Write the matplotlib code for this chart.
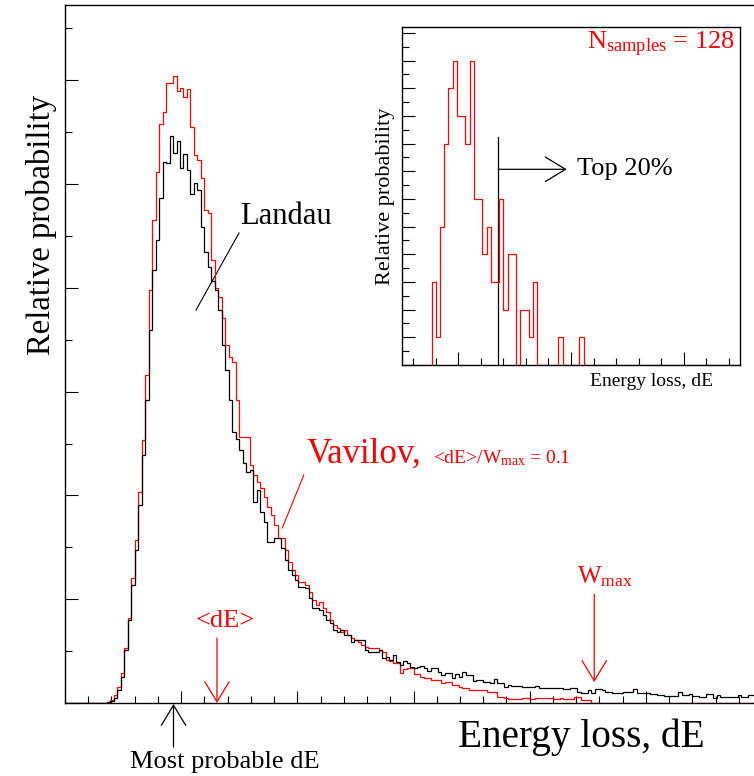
import numpy as np
import matplotlib
matplotlib.use("Agg")
import matplotlib.pyplot as plt

plt.rcParams.update({
    "font.family": "Liberation Serif",
    "mathtext.fontset": "custom",
    "mathtext.rm": "Liberation Serif",
    "mathtext.it": "Liberation Serif:italic",
})

# ── main histograms: 200 bins over 30 x-units (1 unit = one minor x tick) ──
X_MAX = 30.0
N_BINS = 200
TICK_Y = 51.9          # one minor y tick, heights are in arbitrary units
Y_MAX = 698.0

landau = [
    0, 0, 0, 0, 0, 0, 0, 0, 0, 0,
    0, 0, 1, 2, 5, 13, 26, 53, 83, 118,
    153, 198, 248, 303, 373, 433, 463, 505, 541, 540,
    567, 550, 562, 535, 549, 533, 509, 520, 513, 476,
    451, 436, 422, 413, 393, 358, 333, 303, 271, 264,
    253, 240, 231, 233, 201, 213, 191, 181, 161, 161,
    165, 165, 155, 143, 133, 128, 123, 116, 116, 115,
    105, 95, 95, 93, 88, 83, 80, 73, 71, 73,
    68, 68, 61, 63, 63, 63, 53, 51, 51, 51,
    53, 45, 46, 43, 48, 41, 38, 42, 40, 36,
    35, 36, 37, 35, 32, 35, 35, 31, 28, 30,
    30, 25, 29, 26, 31, 28, 28, 22, 23, 23,
    21, 21, 20, 24, 20, 20, 16, 18, 17, 17,
    17, 16, 16, 16, 16, 17, 15, 15, 15, 15,
    15, 15, 15, 14, 14, 15, 15, 11, 10, 10,
    13, 10, 14, 14, 13, 11, 11, 10, 10, 10,
    11, 11, 11, 14, 10, 10, 10, 10, 9, 9,
    8, 8, 7, 7, 7, 7, 11, 8, 8, 9,
    7, 7, 6, 6, 9, 9, 5, 8, 6, 6,
    6, 6, 6, 8, 6, 6, 8, 8, 7, 7,
]

vavilov = [
    0, 0, 0, 0, 0, 0, 0, 0, 0, 0,
    0, 0, 1, 3, 8, 16, 30, 55, 85, 125,
    163, 211, 263, 328, 413, 483, 531, 579, 591, 620,
    620, 627, 612, 615, 606, 614, 576, 548, 543, 525,
    493, 490, 443, 415, 406, 385, 358, 346, 341, 303,
    266, 266, 266, 238, 228, 221, 215, 206, 196, 188,
    178, 165, 165, 153, 141, 133, 128, 121, 121, 118,
    111, 103, 98, 101, 95, 91, 83, 78, 75, 71,
    73, 68, 65, 63, 61, 58, 56, 55, 55, 55,
    53, 51, 43, 42, 40, 40, 30, 34, 35, 35,
    29, 29, 26, 25, 25, 23, 23, 23, 20, 21,
    21, 18, 18, 16, 15, 15, 13, 13, 13, 13,
    13, 11, 11, 11, 6, 6, 5, 4, 4, 4,
    4, 5, 5, 4, 4, 5, 5, 5, 5, 5,
    4, 4, 5, 4, 4, 4, 6, 6, 3, 3,
    3, 0, 0, 0, 0, 0, 0, 0, 0, 0,
    0, 0, 0, 0, 0, 0, 0, 0, 0, 0,
    0, 0, 0, 0, 0, 0, 0, 0, 0, 0,
    0, 0, 0, 0, 0, 0, 0, 0, 0, 0,
    0, 0, 0, 0, 0, 0, 0, 0, 0, 0,
]

# ── inset: 128 sampled energy losses, 80 bins over 15 x-units ──
INSET_X_MAX = 15.0
INSET_Y_MAX = 12.2
inset_counts = ([0] * 7
                + [3, 1, 5, 8, 10, 11, 9, 9, 8, 11, 6, 6, 4, 5, 3, 3, 6, 2,
                   4, 4, 0, 2, 2, 1, 3, 0, 0, 0, 0, 0, 1, 0, 0, 0, 0, 1]
                + [0] * 37)
top20_cut = 4.27

RED = "#ff0000"
W, H = 754, 776


def arrow(ax, tail, tip, color):
    ax.annotate("", xy=tip, xytext=tail, annotation_clip=False,
                arrowprops=dict(arrowstyle="->,head_length=14.5,head_width=8.8",
                                mutation_scale=1, color=color, lw=0.9,
                                shrinkA=0, shrinkB=0))


fig = plt.figure(figsize=(W / 100, H / 100), dpi=100)

# ═══════════════ main plot ═══════════════
ax = fig.add_axes([65 / W, 1 - 703 / H, 697 / W, 698 / H])
edges = np.linspace(0, X_MAX, N_BINS + 1)
ax.stairs(vavilov, edges, color=RED, lw=0.9, zorder=3)
ax.stairs(landau, edges, color="black", lw=0.9, zorder=3)

ax.set_xlim(0, X_MAX)
ax.set_ylim(0, Y_MAX)
ax.set_xticks(np.arange(0, X_MAX + 0.1, 5))
ax.set_xticks(np.arange(0, X_MAX + 0.1, 1), minor=True)
ax.set_yticks(np.arange(0, Y_MAX, 2 * TICK_Y))
ax.set_yticks(np.arange(0, Y_MAX, TICK_Y), minor=True)
ax.tick_params(which="both", direction="in", width=0.8, top=False, right=False,
               labelbottom=False, labelleft=False)
ax.tick_params(which="major", length=9)
ax.tick_params(which="minor", length=4.8)
ax.spines["right"].set_visible(False)
for s in ("left", "bottom", "top"):
    ax.spines[s].set_linewidth(1.0)

ax.text(-0.99, 478, "Relative probability", rotation=90, ha="center", va="center",
        fontsize=23.5, clip_on=False)
ax.text(27.55, -44, "Energy loss, dE", ha="right", va="baseline", fontsize=28.3,
        clip_on=False)

# Landau label
ax.plot([5.64, 7.49], [393, 470], color="black", lw=0.8)
ax.text(7.53, 479, "Landau", ha="left", va="baseline", fontsize=22)

# Vavilov label
ax.plot([9.35, 10.28], [175, 228], color=RED, lw=0.8)
ax.text(10.40, 240, "Vavilov,", ha="left", va="baseline", fontsize=25, color=RED)
ax.text(15.85, 240, r"<dE>/W$_{\mathrm{max}}$ = 0.1", ha="left", va="baseline",
        fontsize=14, color=RED)

# markers on the x axis
arrow(ax, (6.54, 65), (6.54, 0), RED)
ax.text(6.89, 76, "<dE>", ha="center", va="baseline", fontsize=19, color=RED)
arrow(ax, (22.78, 109), (22.78, 21), RED)
ax.text(22.02, 120, r"W$_{\mathrm{max}}$", ha="left", va="baseline", fontsize=18,
        color=RED)
arrow(ax, (4.67, -44), (4.67, -1), "black")
ax.text(6.88, -65, "Most probable dE", ha="center", va="baseline", fontsize=19,
        clip_on=False)

# ═══════════════ inset ═══════════════
axin = fig.add_axes([402 / W, 1 - 365 / H, 338 / W, 337.7 / H])
in_edges = np.linspace(0, INSET_X_MAX, len(inset_counts) + 1)
axin.stairs(inset_counts, in_edges, color=RED, lw=0.9, zorder=3)
axin.set_xlim(0, INSET_X_MAX)
axin.set_ylim(0, INSET_Y_MAX)
axin.set_xticks([2.5, 7.5, 12.5])
axin.set_xticks(np.arange(0.5, INSET_X_MAX, 1), minor=True)
axin.set_yticks(np.arange(0, 12.5, 1))
axin.set_yticks(np.arange(0, 12.3, 0.5), minor=True)
axin.tick_params(which="both", direction="in", width=0.8, top=False, right=False,
                 labelbottom=False, labelleft=False)
axin.tick_params(which="major", length=9.2)
axin.tick_params(which="minor", length=4.9)
for s in axin.spines.values():
    s.set_linewidth(1.0)

axin.plot([top20_cut, top20_cut], [0, 8.25], color="black", lw=0.9)
arrow(axin, (top20_cut, 7.07), (7.31, 7.07), "black")
axin.text(7.75, 7.07, "Top 20%", ha="left", va="center", fontsize=19)
axin.text(14.78, 11.41, r"N$_{\mathrm{samples}}$ = 128", ha="right", va="baseline",
          fontsize=19, color=RED)
axin.text(0.92, -0.062, "Energy loss, dE", transform=axin.transAxes, ha="right",
          va="baseline", fontsize=14)
axin.text(-0.048, 0.50, "Relative probability", transform=axin.transAxes,
          rotation=90, ha="center", va="center", fontsize=16)

fig.savefig("out.png", dpi=100)
